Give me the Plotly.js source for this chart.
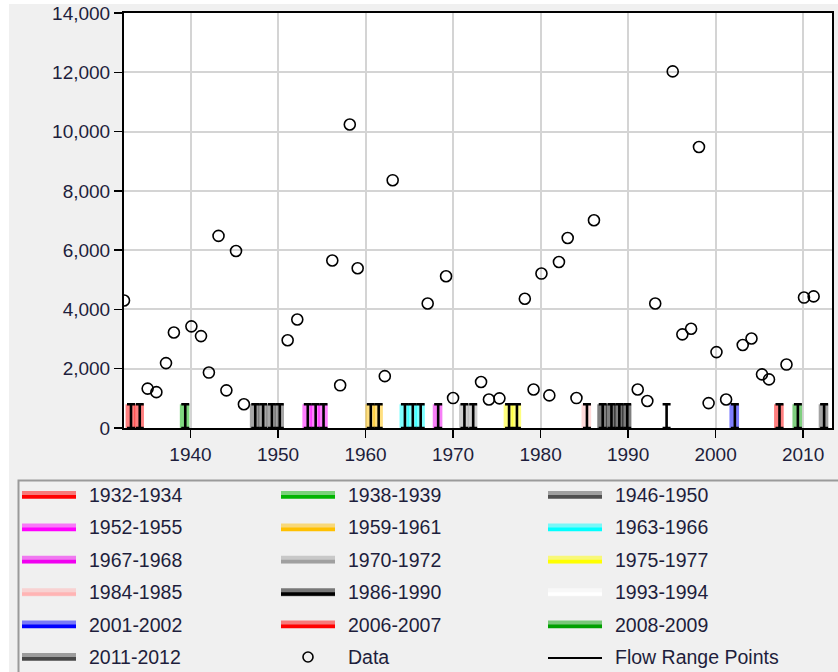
<!DOCTYPE html>
<html>
<head>
<meta charset="utf-8">
<script src="https://cdn.plot.ly/plotly-3.0.1.min.js"></script>
<style>
  html, body { margin: 0; padding: 0; background: #ffffff; }
  #chart { width: 838px; height: 672px; }
</style>
</head>
<body>
<div id="chart"></div>
<script>
// Annual peak flows (year position, flow)
const peakYears = [1932.4, 1935.1, 1936.1, 1937.2, 1938.1, 1940.1, 1941.2, 1942.1, 1943.2, 1944.1,
  1945.2, 1946.1, 1951.1, 1952.2, 1956.2, 1957.1, 1958.2, 1959.1, 1962.2, 1963.1,
  1967.1, 1969.2, 1970.0, 1973.2, 1974.1, 1975.3, 1978.2, 1979.2, 1980.1, 1981.0,
  1982.1, 1983.1, 1984.1, 1986.1, 1991.1, 1992.2, 1993.1, 1995.1, 1996.2, 1997.2,
  1998.1, 1999.2, 2000.1, 2001.2, 2003.1, 2004.1, 2005.3, 2006.1, 2008.1, 2010.1, 2011.2];
const peakFlows = [4300, 1330, 1210, 2190, 3220, 3430, 3100, 1870, 6480, 1270,
  5970, 800, 2960, 3660, 5650, 1440, 10240, 5390, 1750, 8360,
  4200, 5120, 1010, 1550, 960, 1000, 4360, 1300, 5210, 1100,
  5600, 6410, 1010, 7010, 1300, 910, 4200, 12030, 3160, 3350,
  9480, 840, 2560, 960, 2800, 3020, 1810, 1640, 2140, 4400, 4440];

// Flow range periods
const rangeLabels = ['1932-1934', '1938-1939', '1946-1950', '1952-1955', '1959-1961', '1963-1966',
  '1967-1968', '1970-1972', '1975-1977', '1984-1985', '1986-1990', '1993-1994',
  '2001-2002', '2006-2007', '2008-2009', '2011-2012'];
const rangeColors = ['#FF0000', '#00B400', '#505050', '#FF00FF', '#FFC000', '#00FFFF',
  '#F000F0', '#A0A0A0', '#FFFF00', '#FFB4B4', '#000000', '#FFFFFF',
  '#0000FF', '#FF0000', '#00A000', '#484848'];
const rangeYears = [
  [1933.2, 1934.2], [1939.4], [1947.4, 1948.3, 1949.3, 1950.2], [1953.4, 1954.3, 1955.2],
  [1960.6, 1961.5], [1964.5, 1965.4, 1966.3], [1968.3], [1971.3, 1972.3],
  [1976.4, 1977.3], [1985.3], [1987.1, 1988.1, 1989.0, 1989.9], [1994.4],
  [2002.2], [2007.3], [2009.4], [2012.4]];
const rangeLower = 0;
const rangeUpper = 800;

const xTicks = [1940, 1950, 1960, 1970, 1980, 1990, 2000, 2010];
const yTicks = [0, 2000, 4000, 6000, 8000, 10000, 12000, 14000];

// Page geometry (px) used for the hand-drawn legend panel
const W = 838, H = 672;
const M = { l: 124, r: 6, t: 13, b: 244 };
const PW = W - M.l - M.r, PH = H - M.t - M.b;
const px = v => (v - M.l) / PW;
const py = v => (H - M.b - v) / PH;

const FONT = 'Liberation Sans, Arial, sans-serif';
const TEXT = '#1e1e3c';

const traces = [];

// Coloured band behind each flow range point
rangeYears.forEach((yrs, i) => {
  traces.push({
    type: 'bar',
    x: yrs,
    base: yrs.map(() => rangeLower),
    y: yrs.map(() => rangeUpper - rangeLower),
    width: 1.1,
    offset: -0.62,
    marker: { color: rangeColors[i], opacity: 0.5, line: { width: 0 } },
    name: rangeLabels[i],
    showlegend: false,
    hoverinfo: 'skip'
  });
});

// Flow range points as I-beams
const allRangeYears = rangeYears.flat();
traces.push({
  type: 'scatter',
  mode: 'markers',
  x: allRangeYears,
  y: allRangeYears.map(() => (rangeLower + rangeUpper) / 2),
  marker: { size: 1, color: 'rgba(0,0,0,0)' },
  error_y: {
    type: 'data', symmetric: true,
    array: allRangeYears.map(() => (rangeUpper - rangeLower) / 2),
    color: '#000000', thickness: 2.6, width: 4
  },
  cliponaxis: false,
  name: 'Flow Range Points',
  showlegend: false
});

// Annual peaks
traces.push({
  type: 'scatter',
  mode: 'markers',
  x: peakYears,
  y: peakFlows,
  marker: { symbol: 'circle-open', size: 11, color: '#000000', line: { width: 1.6, color: '#000000' } },
  name: 'Data',
  showlegend: false
});

// Legend panel drawn in page coordinates
const shapes = [];
const annotations = [];

// white outer strips and legend frame
shapes.push({ type: 'rect', xref: 'paper', yref: 'paper', x0: px(0), x1: px(9), y0: py(0), y1: py(H), fillcolor: '#ffffff', line: { width: 0 }, layer: 'below' });
shapes.push({ type: 'rect', xref: 'paper', yref: 'paper', x0: px(0), x1: px(W), y0: py(0), y1: py(4), fillcolor: '#ffffff', line: { width: 0 }, layer: 'below' });
shapes.push({ type: 'rect', xref: 'paper', yref: 'paper', x0: px(18.5), x1: px(W + 4), y0: py(480.5), y1: py(H + 4), fillcolor: 'rgba(0,0,0,0)', line: { width: 2, color: '#9a9a9a' } });

const colLine = [22, 281, 548];
const colText = [87, 346, 613];
const lineLen = 54;
const rowY = r => 495 + r * 32.4;

function hexToRgba(hex, a) {
  const n = parseInt(hex.slice(1), 16);
  return `rgba(${(n >> 16) & 255},${(n >> 8) & 255},${n & 255},${a})`;
}

const entries = rangeLabels.map((t, i) => ({ kind: 'range', text: t, color: rangeColors[i] }));
entries.push({ kind: 'data', text: 'Data' });
entries.push({ kind: 'flow', text: 'Flow Range Points' });

entries.forEach((e, i) => {
  const c = i % 3, r = Math.floor(i / 3);
  const yc = rowY(r);
  const x0 = colLine[c], x1 = colLine[c] + lineLen;
  if (e.kind === 'range') {
    shapes.push({ type: 'rect', xref: 'paper', yref: 'paper', x0: px(x0), x1: px(x1), y0: py(yc - 4), y1: py(yc + 4), fillcolor: hexToRgba(e.color, 0.5), line: { width: 0 } });
    shapes.push({ type: 'rect', xref: 'paper', yref: 'paper', x0: px(x0), x1: px(x1), y0: py(yc), y1: py(yc + 3.5), fillcolor: e.color, line: { width: 0 } });
  } else if (e.kind === 'data') {
    const cx = 308;
    shapes.push({ type: 'circle', xref: 'paper', yref: 'paper', x0: px(cx - 5), x1: px(cx + 5), y0: py(yc - 5), y1: py(yc + 5), line: { width: 1.6, color: '#000000' } });
  } else {
    shapes.push({ type: 'line', xref: 'paper', yref: 'paper', x0: px(x0), x1: px(x1), y0: py(yc + 1), y1: py(yc + 1), line: { width: 2.2, color: '#000000' } });
  }
  annotations.push({
    xref: 'paper', yref: 'paper', x: px(colText[c]), y: py(yc),
    xanchor: 'left', yanchor: 'middle', showarrow: false,
    text: e.text, font: { family: FONT, size: 19.5, color: TEXT }
  });
});

const axisCommon = {
  showgrid: true, gridcolor: '#d4d4d4', gridwidth: 2,
  showline: true, linecolor: '#000000', linewidth: 2, mirror: true,
  ticks: 'outside', ticklen: 8, tickwidth: 1.5, tickcolor: '#000000',
  zeroline: false, tickfont: { family: FONT, size: 19, color: TEXT }
};

const layout = {
  width: W, height: H,
  margin: M,
  paper_bgcolor: '#f0f0f0',
  plot_bgcolor: '#ffffff',
  showlegend: false,
  barmode: 'overlay',
  xaxis: Object.assign({}, axisCommon, {
    range: [1932.4, 2013.3], tickmode: 'array', tickvals: xTicks, ticktext: xTicks.map(String)
  }),
  yaxis: Object.assign({}, axisCommon, {
    range: [0, 14000], tickmode: 'array', tickvals: yTicks,
    ticktext: yTicks.map(v => v.toLocaleString('en-US'))
  }),
  shapes: shapes,
  annotations: annotations
};

Plotly.newPlot('chart', traces, layout, { displayModeBar: false, staticPlot: true });
</script>
</body>
</html>
